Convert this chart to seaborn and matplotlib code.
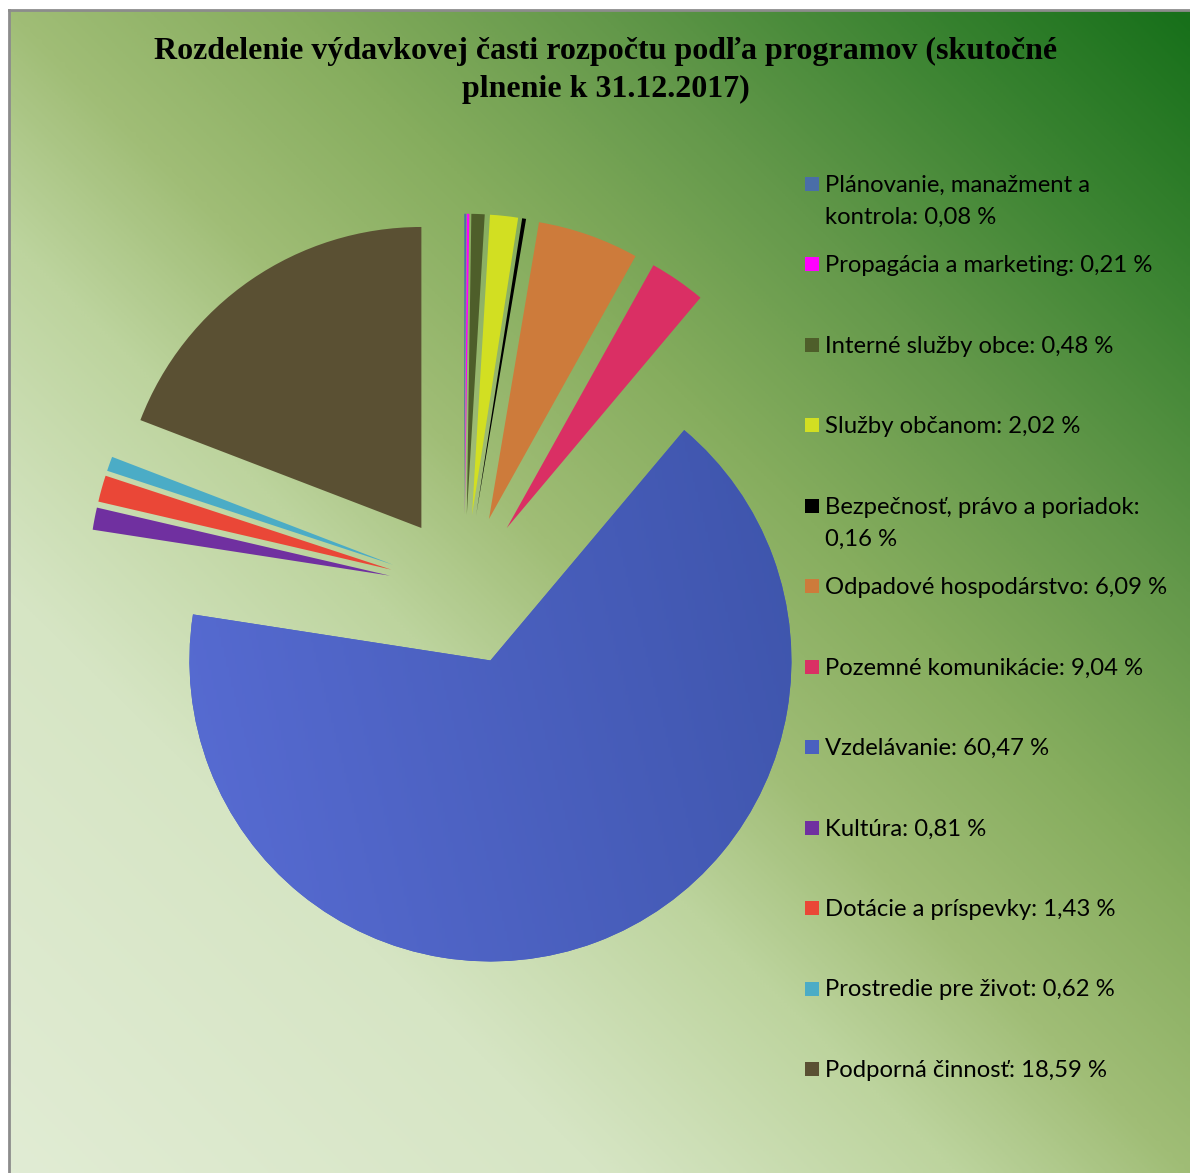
"""
Exploded pie of budget spending by programme, 2017, with gradient background.
"""

import matplotlib.pyplot as plt
import numpy as np
import seaborn as sns
from matplotlib.colors import LinearSegmentedColormap
from matplotlib.patches import Rectangle


FIG_W, FIG_H = 1190, 1173

TITLE_LINES = [
    "Rozdelenie výdavkovej časti rozpočtu podľa programov (skutočné",
    "plnenie k 31.12.2017)",
]

CATEGORIES = [
    "Plánovanie, manažment a kontrola",
    "Propagácia a marketing",
    "Interné služby obce",
    "Služby občanom",
    "Bezpečnosť, právo a poriadok",
    "Odpadové hospodárstvo",
    "Pozemné komunikácie",
    "Vzdelávanie",
    "Kultúra",
    "Dotácie a príspevky",
    "Prostredie pre život",
    "Podporná činnosť",
]

# legend text exactly as printed (wrapped where the original wraps)
LEGEND_LABELS = [
    "Plánovanie, manažment a\nkontrola: 0,08 %",
    "Propagácia a marketing: 0,21 %",
    "Interné služby obce: 0,48 %",
    "Služby občanom: 2,02 %",
    "Bezpečnosť, právo a poriadok:\n0,16 %",
    "Odpadové hospodárstvo: 6,09 %",
    "Pozemné komunikácie: 9,04 %",
    "Vzdelávanie: 60,47 %",
    "Kultúra: 0,81 %",
    "Dotácie a príspevky: 1,43 %",
    "Prostredie pre život: 0,62 %",
    "Podporná činnosť: 18,59 %",
]

# slice sizes as drawn in the picture (percent of the circle)
SLICE_SHARES = [0.11, 0.13, 0.71, 1.50, 0.21, 5.44, 3.03, 66.33, 1.19, 1.42, 0.78, 19.17]

SLICE_COLORS = [
    "#4a6ea8",
    "#ff00ff",
    "#4e5e2a",
    "#d2df22",
    "#000000",
    "#cd7b3b",
    "#da2f64",
    "#4a60c0",
    "#7030a0",
    "#ea4737",
    "#4bacc6",
    "#5a5033",
]

BG_STOPS = [
    (0.00, "#e1ecd4"),
    (0.25, "#d6e5c4"),
    (0.40, "#bdd49e"),
    (0.50, "#a0bd76"),
    (0.62, "#86ad5e"),
    (0.75, "#63984a"),
    (0.88, "#3a8331"),
    (1.00, "#17701a"),
]

BLUE_STOPS = [(0.0, "#5c70da"), (1.0, "#3a51a5")]


def px_rect(left, top, width, height):
    """Convert a pixel box (top-left origin) to figure fractions."""
    return [left / FIG_W, 1 - (top + height) / FIG_H, width / FIG_W, height / FIG_H]


sns.set_theme(style="white")
plt.rcParams["font.family"] = ["Lato", "DejaVu Sans"]

fig = plt.figure(figsize=(FIG_W / 100, FIG_H / 100), dpi=100)
fig.patch.set_facecolor("white")

# background panel with diagonal gradient
bg = fig.add_axes(px_rect(9, 10, FIG_W - 9, FIG_H - 10))
uu, vv = np.meshgrid(np.linspace(0, 1, 400), np.linspace(0, 1, 400))
bg_cmap = LinearSegmentedColormap.from_list("bg", BG_STOPS)
bg.imshow((uu + vv) / 2, cmap=bg_cmap, origin="lower", extent=[0, 1, 0, 1],
          aspect="auto", vmin=0, vmax=1, interpolation="bilinear")
bg.set_xlim(0, 1)
bg.set_ylim(0, 1)
bg.set_xticks([])
bg.set_yticks([])
for side in ["right", "bottom"]:
    bg.spines[side].set_visible(False)
for side in ["left", "top"]:
    bg.spines[side].set_color("#8c8c8c")
    bg.spines[side].set_linewidth(2)

# pie axes: 1 data unit = radius in pixels
radius_px = 301
span_px = 2.5 * radius_px
cx, cy = 464, 590
ax = fig.add_axes(px_rect(cx - span_px / 2, cy - span_px / 2, span_px, span_px))
ax.patch.set_alpha(0)
wedges, _ = ax.pie(
    SLICE_SHARES,
    colors=SLICE_COLORS,
    explode=[0.25] * len(SLICE_SHARES),
    startangle=90,
    counterclock=False,
    radius=1,
    wedgeprops={"linewidth": 0},
)

# soft gradient on the large slice
xx, yy = np.meshgrid(np.linspace(-1.25, 1.25, 300), np.linspace(-1.25, 1.25, 300))
blue_t = (0.8 * xx + 0.2 * yy + 1.25) / 2.5
blue_img = ax.imshow(blue_t, cmap=LinearSegmentedColormap.from_list("blue", BLUE_STOPS),
                     origin="lower", extent=[-1.25, 1.25, -1.25, 1.25],
                     vmin=0, vmax=1, zorder=wedges[7].get_zorder() + 0.1)
blue_img.set_clip_path(wedges[7])

ax.set_xlim(-1.25, 1.25)
ax.set_ylim(-1.25, 1.25)
ax.set_aspect("equal")
ax.axis("off")

# title
for line, baseline in zip(TITLE_LINES, [59, 97]):
    fig.text(606 / FIG_W, 1 - baseline / FIG_H, line, ha="center", va="baseline",
             fontsize=23.0, fontweight="bold", family="Liberation Serif", color="black")

# legend drawn as a column, one entry every ~80 px
first_baseline = 192
pitch = 80.45
for i, (label, color) in enumerate(zip(LEGEND_LABELS, SLICE_COLORS)):
    base = first_baseline + i * pitch
    fig.add_artist(Rectangle((805 / FIG_W, 1 - (base - 1) / FIG_H), 14 / FIG_W, 14 / FIG_H,
                             transform=fig.transFigure, facecolor=color, edgecolor="none"))
    for j, part in enumerate(label.split("\n")):
        fig.text(825 / FIG_W, 1 - (base + 32 * j) / FIG_H, part, ha="left", va="baseline",
                 fontsize=17.2, color="black")

fig.savefig("out.png", dpi=100, facecolor=fig.get_facecolor())
